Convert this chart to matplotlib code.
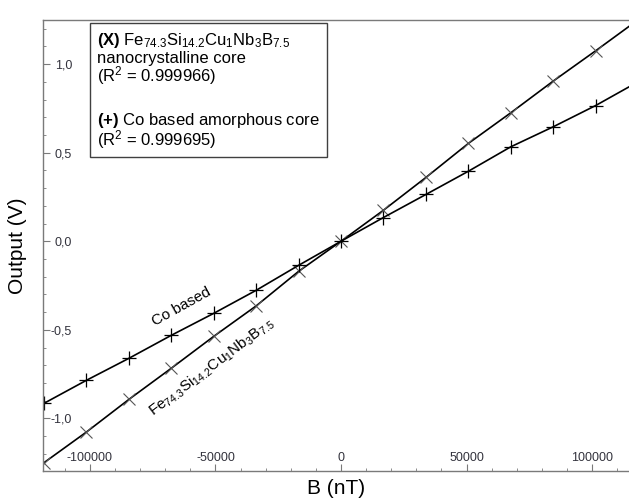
import matplotlib
matplotlib.use("Agg")
import matplotlib.pyplot as plt
import matplotlib.ticker as ticker

# field steps (nT) and sensor output (V)
b_field = [-118300, -101400, -84500, -67600, -50700, -33800, -16900, 0,
           16900, 33800, 50700, 67600, 84500, 101400, 118300]
out_fe = [-1.250, -1.077, -0.893, -0.717, -0.537, -0.365, -0.170, 0.0,
          0.175, 0.360, 0.552, 0.725, 0.904, 1.075, 1.250]
out_co = [-0.915, -0.785, -0.661, -0.531, -0.407, -0.277, -0.136, 0.0,
          0.134, 0.264, 0.395, 0.533, 0.646, 0.766, 0.900]

x_ticks = [-100000, -50000, 0, 50000, 100000]
y_ticks = [-1.0, -0.5, 0.0, 0.5, 1.0]

plt.rcParams['font.family'] = ['Liberation Sans', 'DejaVu Sans']
plt.rcParams['mathtext.fontset'] = 'custom'
plt.rcParams['mathtext.rm'] = 'Liberation Sans'
plt.rcParams['mathtext.bf'] = 'Liberation Sans:bold'
plt.rcParams['mathtext.default'] = 'regular'

fig = plt.figure(figsize=(6.29, 5.0), dpi=100)
ax = fig.add_axes([43 / 629, 29 / 500, 1 - 43 / 629, 451 / 500])

ax.plot(b_field, out_fe, color='black', lw=1.2, marker='x', ms=8.5,
        mec='#555555', mew=0.8)
ax.plot(b_field, out_co, color='black', lw=1.2, marker='+', ms=10,
        mec='black', mew=0.9)

ax.set_xlim(-118700, 114700)
ax.set_ylim(-1.297, 1.249)

ax.set_xticks(x_ticks)
ax.set_yticks(y_ticks)
ax.xaxis.set_minor_locator(ticker.MultipleLocator(10000))
ax.yaxis.set_minor_locator(ticker.MultipleLocator(0.1))
ax.xaxis.set_major_formatter(ticker.FuncFormatter(lambda v, p: "%d" % v))
ax.yaxis.set_major_formatter(
    ticker.FuncFormatter(lambda v, p: ("%.1f" % v).replace('.', ',').replace('-0,0', '0,0')))

for s in ['top', 'left', 'bottom']:
    ax.spines[s].set_color('#7a7a7a')
    ax.spines[s].set_linewidth(1.0)
ax.spines['right'].set_visible(False)

ax.tick_params(which='both', direction='in', color='#7a7a7a', labelcolor='#33333d',
               labelsize=9, top=False, right=False)
ax.tick_params(which='major', length=5)
ax.tick_params(which='minor', length=2.5)
ax.tick_params(axis='y', pad=-21)
ax.tick_params(axis='x', pad=-9.4)
for lab in ax.get_yticklabels():
    lab.set_ha('right')
for lab in ax.get_xticklabels():
    lab.set_va('center')

ax.set_xlabel('B (nT)', fontsize=15)
ax.set_ylabel('Output (V)', fontsize=15)
ax.yaxis.set_label_coords(-25 / 586, 0.5)
ax.xaxis.set_label_coords(0.5, -18 / 451)
ax.xaxis.label.set_va('center')
ax.yaxis.label.set_va('center')

# curve labels
ax.text(-63700, -0.367, 'Co based', rotation=29, fontsize=11,
        ha='center', va='center', rotation_mode='anchor')
ax.text(-51400, -0.71, r'Fe$_{74.3}$Si$_{14.2}$Cu$_{1}$Nb$_{3}$B$_{7.5}$', rotation=37,
        fontsize=11, ha='center', va='center', rotation_mode='anchor')

# info box
fig.patches.append(plt.Rectangle((90 / 629, 1 - 157 / 500), 237 / 629, 134 / 500,
                                 transform=fig.transFigure, fill=False,
                                 edgecolor='#404040', lw=1.0))
tx = 97 / 629
fs = 12
fig.text(tx, 1 - 40 / 500, r'$\mathbf{(X)}$ Fe$_{74.3}$Si$_{14.2}$Cu$_{1}$Nb$_{3}$B$_{7.5}$',
         fontsize=fs, va='center')
fig.text(tx, 1 - 58 / 500, 'nanocrystalline core', fontsize=fs, va='center')
fig.text(tx, 1 - 76 / 500, r'(R$^{2}$ = 0.999966)', fontsize=fs, va='center')
fig.text(tx, 1 - 121 / 500, r'$\mathbf{(+)}$ Co based amorphous core', fontsize=fs, va='center')
fig.text(tx, 1 - 140 / 500, r'(R$^{2}$ = 0.999695)', fontsize=fs, va='center')

fig.savefig('out.png', dpi=100)
